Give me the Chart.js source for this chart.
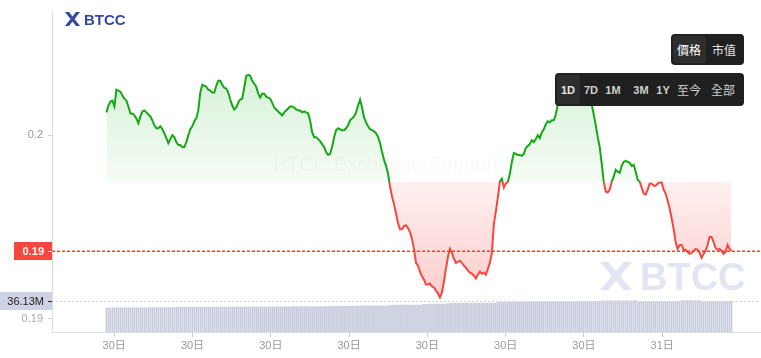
<!DOCTYPE html>
<html><head><meta charset="utf-8">
<script src="https://cdn.jsdelivr.net/npm/chart.js@4"></script>
<style>
html,body{margin:0;padding:0;background:#fff;overflow:hidden;}
#wrap{position:relative;width:761px;height:358px;}
canvas{position:absolute;left:0;top:0;}
.logo{position:absolute;left:65px;top:12px;height:14px;display:flex;align-items:center;font:bold 15px "Liberation Sans",Arial,sans-serif;color:#3149a0;}
.box{position:absolute;background:#202020;border-radius:4px;font-family:"Noto Sans CJK TC","Liberation Sans",sans-serif;}
.box span{position:absolute;top:50%;transform:translate(-50%,-50%);white-space:nowrap;line-height:1;}
.hl{position:absolute;background:#2e2e2e;border-radius:3px;}
.lat{font:bold 11px "Liberation Sans",Arial,sans-serif;color:#cfcfcf;}
.cjk{font-size:12px;color:#cfcfcf;}
</style></head>
<body><div id="wrap"><canvas id="c" width="761" height="358"></canvas>
<div class="logo"><svg width="15" height="14" viewBox="0 0 15 14"><polygon fill="#3149a0" points="0,0 4,0 7.5,4.5 11,0 15,0 9.5,7 15,14 11,14 7.5,9.5 4,14 0,14 5.5,7"/></svg><span style="margin-left:4px">BTCC</span></div>
<div class="box" style="left:671px;top:34px;width:73px;height:31px;">
 <div class="hl" style="left:2px;top:2px;width:33px;height:27px"></div>
 <span class="cjk" style="left:18px;color:#fff">價格</span>
 <span class="cjk" style="left:53px;color:#e0e0e0">市值</span>
</div>
<div class="box" style="left:555px;top:73px;width:189px;height:33px;">
 <div class="hl" style="left:2px;top:2px;width:23px;height:29px"></div>
 <span class="lat" style="left:13px;color:#e6e6e6">1D</span>
 <span class="lat" style="left:36px">7D</span>
 <span class="lat" style="left:58px">1M</span>
 <span class="lat" style="left:86px">3M</span>
 <span class="lat" style="left:108px">1Y</span>
 <span class="cjk" style="left:134px">至今</span>
 <span class="cjk" style="left:168px">全部</span>
</div>
</div>
<script>
const priceValues = [
0.20197,0.20256,0.20291,0.20299,0.20248,0.20393,0.20385,0.20376,0.20342,0.20316,
0.20299,0.20248,0.20188,0.20188,0.20171,0.20145,0.20103,0.20162,0.20205,0.20214,
0.20197,0.20179,0.20162,0.20128,0.20085,0.20060,0.20060,0.20077,0.20051,0.20017,
0.19974,0.19932,0.19966,0.20000,0.19983,0.19940,0.19915,0.19915,0.19897,0.19897,
0.19940,0.20000,0.20051,0.20077,0.20120,0.20145,0.20214,0.20368,0.20436,0.20427,
0.20419,0.20393,0.20385,0.20368,0.20368,0.20427,0.20470,0.20470,0.20436,0.20410,
0.20402,0.20368,0.20308,0.20256,0.20222,0.20239,0.20282,0.20308,0.20316,0.20410,
0.20513,0.20521,0.20513,0.20470,0.20444,0.20419,0.20359,0.20325,0.20359,0.20359,
0.20333,0.20325,0.20316,0.20282,0.20239,0.20222,0.20205,0.20188,0.20171,0.20197,
0.20214,0.20231,0.20248,0.20248,0.20239,0.20222,0.20214,0.20214,0.20197,0.20205,
0.20197,0.20188,0.20128,0.20026,0.19983,0.19983,0.19966,0.19949,0.19923,0.19897,
0.19855,0.19829,0.19838,0.19897,0.19983,0.20043,0.20060,0.20051,0.20043,0.20043,
0.20060,0.20085,0.20128,0.20145,0.20162,0.20197,0.20256,0.20308,0.20239,0.20154,
0.20111,0.20077,0.20051,0.20043,0.20034,0.20017,0.19983,0.19932,0.19855,0.19786,
0.19735,0.19667,0.19556,0.19470,0.19402,0.19325,0.19239,0.19188,0.19188,0.19214,
0.19222,0.19197,0.19162,0.19103,0.19017,0.18897,0.18872,0.18821,0.18778,0.18752,
0.18709,0.18709,0.18718,0.18692,0.18684,0.18658,0.18632,0.18598,0.18641,0.18735,
0.18846,0.18949,0.19017,0.18983,0.18932,0.18897,0.18906,0.18915,0.18897,0.18872,
0.18855,0.18829,0.18812,0.18803,0.18786,0.18761,0.18795,0.18821,0.18803,0.18812,
0.18795,0.18846,0.18897,0.18983,0.19231,0.19342,0.19462,0.19598,0.19624,0.19547,
0.19581,0.19598,0.19667,0.19769,0.19846,0.19838,0.19829,0.19829,0.19821,0.19838,
0.19889,0.19906,0.19923,0.19957,0.19940,0.19966,0.20000,0.19974,0.20026,0.20051,
0.20094,0.20120,0.20111,0.20128,0.20128,0.20179,0.20265,0.20316,0.20350,0.20368,
0.20402,0.20419,0.20427,0.20453,0.20470,0.20487,0.20513,0.20504,0.20479,0.20453,
0.20410,0.20368,0.20316,0.20265,0.20179,0.20085,0.19983,0.19897,0.19752,0.19598,
0.19513,0.19504,0.19530,0.19598,0.19641,0.19701,0.19684,0.19675,0.19735,0.19769,
0.19778,0.19769,0.19761,0.19735,0.19744,0.19684,0.19615,0.19598,0.19547,0.19496,
0.19487,0.19530,0.19581,0.19581,0.19564,0.19564,0.19581,0.19590,0.19590,0.19530,
0.19496,0.19436,0.19368,0.19282,0.19188,0.19077,0.19017,0.19051,0.19051,0.19009,
0.19009,0.18991,0.18974,0.18983,0.19000,0.19017,0.19009,0.18983,0.18940,0.18974,
0.19000,0.19051,0.19120,0.19120,0.19077,0.19026,0.19009,0.19017,0.19000,0.18974,
0.18991,0.19051,0.19017,0.19000
];
const volumeValues = [
28.42,28.45,28.40,28.47,28.44,28.50,28.46,28.52,28.48,28.51,28.55,28.53,28.58,28.54,28.57,28.60,28.56,28.61,28.59,28.63,
28.62,28.66,28.64,28.68,28.65,28.70,28.67,28.72,28.69,28.74,28.71,28.76,28.73,28.78,28.80,
28.95,29.00,28.98,29.04,29.02,29.07,29.05,29.10,29.08,29.12,29.10,29.15,29.13,29.18,29.16,29.20,29.19,29.24,29.22,29.27,
29.25,29.30,29.28,29.33,29.31,29.35,29.34,29.38,29.36,29.41,29.39,29.44,29.42,29.47,29.45,29.50,29.48,29.52,29.50,29.55,
29.53,29.57,29.60,
29.62,29.65,29.63,29.68,29.66,29.70,29.69,29.73,29.71,29.76,29.74,29.79,29.77,29.82,29.80,29.85,29.83,29.88,29.86,29.91,
29.89,29.94,29.92,29.97,29.95,30.00,29.98,30.03,30.01,30.06,30.04,30.09,30.07,30.12,30.10,30.15,30.13,30.20,30.18,30.25,
30.23,30.30,30.35,
30.60,30.64,30.62,30.67,30.65,30.70,30.68,30.72,30.70,30.75,30.73,30.77,30.76,30.80,30.78,30.82,30.81,30.85,30.84,30.88,30.90,
31.50,31.55,31.52,31.58,31.56,31.62,31.60,31.66,31.64,31.70,31.68,31.74,31.72,31.78,31.80,31.85,31.90,
32.70,32.74,32.72,32.78,32.80,32.85,32.83,32.90,32.95,32.93,33.00,33.05,33.10,
33.80,33.84,33.82,33.87,33.85,33.90,33.88,33.93,33.91,33.96,33.94,33.99,33.97,34.02,34.00,34.05,34.03,34.08,34.06,34.11,
34.09,34.14,34.17,34.20,
35.30,35.33,35.31,35.36,35.34,35.38,35.36,35.40,35.38,35.42,35.40,35.44,35.42,35.46,35.44,35.48,35.46,35.50,35.48,35.52,
35.50,35.54,35.52,35.56,35.54,35.58,35.56,35.60,35.58,35.62,35.60,35.63,35.61,35.65,35.63,35.67,35.65,35.69,35.67,35.70,
35.68,35.72,35.70,35.74,35.72,35.75,35.73,35.77,35.75,35.78,35.80,
36.50,36.55,36.58,36.62,36.60,36.66,36.64,36.70,36.68,36.74,36.72,36.78,36.76,36.82,36.80,36.85,36.83,36.88,36.90,
35.42,35.45,35.43,35.48,35.46,35.50,35.48,35.53,35.51,35.56,35.54,35.59,35.57,35.62,35.60,35.65,35.63,35.68,35.66,35.71,35.74,35.78,
36.90,36.93,36.91,36.95,36.94,36.97,36.95,36.99,36.98,37.00,
35.62,35.66,35.64,35.70,35.68,35.74,35.72,35.78,35.80,35.85,35.88,35.92,35.97,36.02,36.08,36.13
];
const xTickIdx = [3.9, 43.1, 82.3, 121.5, 160.7, 199.9, 239.1, 278.3];
const xTickLabels = ['30日','30日','30日','30日','30日','30日','30日','31日'];
const priceTicks = [0.2, 0.19];
const baselinePrice = 0.19598;
const volTickValues = [16];
const volTickLabels = ['0.19'];

const FONT = '"Liberation Sans", "Noto Sans CJK TC", Arial, sans-serif';
Chart.defaults.font.family = FONT;
const GREEN = '#14a814';
const RED = '#f5473f';
const WM = 'rgba(150,160,210,0.27)';

function drawIcon(ctx, x, y, w, h, color){
  const p = [[0,0],[4,0],[7.5,4.5],[11,0],[15,0],[9.5,7],[15,14],[11,14],[7.5,9.5],[4,14],[0,14],[5.5,7]];
  ctx.fillStyle = color;
  ctx.beginPath();
  p.forEach((q,i)=>{ const px = x + q[0]/15*w, py = y + q[1]/14*h; i?ctx.lineTo(px,py):ctx.moveTo(px,py); });
  ctx.closePath(); ctx.fill();
}
function dashedH(ctx, x0, x1, yy, color, on, off, h){
  ctx.fillStyle = color;
  for (let x = x0; x < x1; x += on + off) ctx.fillRect(x, yy, Math.min(on, x1 - x), h);
}

const overlay = {
  id: 'overlay',
  beforeDatasetsDraw(chart){
    const ctx = chart.ctx;
    ctx.save();
    ctx.font = '20px ' + FONT;
    ctx.fillStyle = 'rgba(0,0,0,0.025)';
    ctx.textAlign = 'center'; ctx.textBaseline = 'middle';
    ctx.fillText('BTCC Exchange Support', 386, 165);
    drawIcon(ctx, 600, 262, 32, 28, WM);
    ctx.font = 'bold 38px ' + FONT;
    ctx.fillStyle = WM;
    ctx.textAlign = 'left'; ctx.textBaseline = 'alphabetic';
    ctx.fillText('BTCC', 640, 290);
    ctx.restore();
  },
  afterDraw(chart){
    const {ctx, chartArea:a, scales:{y, y1}} = chart;
    const last = priceValues[priceValues.length-1];
    const lv = volumeValues[volumeValues.length-1];
    const py = Math.round(y.getPixelForValue(last));
    const vy = Math.round(y1.getPixelForValue(lv));
    ctx.save();
    dashedH(ctx, a.left, a.right, py - 0.5, '#ff3a30', 3, 2, 1.5);
    dashedH(ctx, a.left, a.right, vy, '#d4d4d4', 2, 2, 1);
    ctx.textAlign = 'right'; ctx.textBaseline = 'middle';
    ctx.fillStyle = RED;
    ctx.fillRect(14, py - 9, a.left - 14, 18);
    ctx.fillStyle = '#fff';
    ctx.font = 'bold 11px ' + FONT;
    ctx.fillText(last.toFixed(2), 44, py + 0.5);
    ctx.fillRect(48, py, 4, 1);
    ctx.fillStyle = '#cdd3e3';
    ctx.fillRect(0, vy - 9, a.left, 18);
    ctx.fillStyle = '#222';
    ctx.font = '11px ' + FONT;
    ctx.fillText(lv.toFixed(2) + 'M', 44, vy + 0.5);
    ctx.fillRect(48, vy, 4, 1);
    volTickValues.forEach((v,i)=>{
      const ty = Math.round(y1.getPixelForValue(v));
      ctx.fillStyle = '#aaa';
      ctx.fillText(volTickLabels[i], 43, ty + 0.5);
      ctx.fillStyle = '#ccc';
      ctx.fillRect(48, ty, 4, 1);
    });
    ctx.restore();
  }
};

const chart = new Chart(document.getElementById('c'), {
  type: 'line',
  data: {
    datasets: [
      {
        type: 'line',
        data: priceValues.map((v,i)=>({x:i, y:v})),
        yAxisID: 'y',
        borderColor: GREEN,
        borderWidth: 2,
        pointRadius: 0,
        tension: 0,
        fill: {target: {value: baselinePrice}, above: 'rgba(20,170,20,0.1)', below: 'rgba(245,71,63,0.15)'},
        order: 1
      },
      {
        type: 'bar',
        data: volumeValues.map((v,i)=>({x:i, y:v})),
        yAxisID: 'y1',
        backgroundColor: '#c6cbdc',
        barThickness: 1,
        order: 2
      }
    ]
  },
  options: {
    responsive: false,
    animation: false,
    layout: {padding: {top: 8, left: 0, right: 0, bottom: 0}},
    plugins: {legend: {display: false}, tooltip: {enabled: false}},
    scales: {
      x: {
        type: 'linear', min: -27.25, max: 327.25, offset: false,
        afterDataLimits: ax => { ax.min = -27.25; ax.max = 327.25; },
        afterBuildTicks: ax => { ax.ticks = xTickIdx.map(v => ({value: v})); },
        afterFit: ax => { ax.height = 26; },
        ticks: {callback: (v, i) => xTickLabels[i], color: '#999', font: {size: 11}, padding: 2, maxRotation: 0, autoSkip: false},
        grid: {offset: false, drawOnChartArea: false, drawTicks: true, tickLength: 5, color: '#ccc'},
        border: {color: '#ddd'}
      },
      y: {
        position: 'left', min: 0.18299, max: 0.21068,
        afterBuildTicks: ax => { ax.ticks = priceTicks.map(v => ({value: v})); },
        afterFit: ax => { ax.width = 52; },
        ticks: {callback: v => String(v), color: '#999', font: {size: 11}, padding: 5},
        grid: {drawOnChartArea: false, drawTicks: true, tickLength: 4, color: '#ccc'},
        border: {color: '#ddd'}
      },
      y1: {display: false, position: 'left', min: 0, max: 377.6}
    }
  },
  plugins: [overlay]
});

(function applyGradients(){
  const {ctx, chartArea, scales:{y}} = chart;
  const yb = y.getPixelForValue(baselinePrice);
  const f = (yb - chartArea.top) / (chartArea.bottom - chartArea.top);
  const lg = ctx.createLinearGradient(0, chartArea.top, 0, chartArea.bottom);
  lg.addColorStop(0, GREEN); lg.addColorStop(f, GREEN); lg.addColorStop(f, RED); lg.addColorStop(1, RED);
  const yTop = y.getPixelForValue(Math.max(...priceValues));
  const yBot = y.getPixelForValue(Math.min(...priceValues));
  const ga = ctx.createLinearGradient(0, yTop, 0, yb);
  ga.addColorStop(0, 'rgba(20,170,20,0.17)'); ga.addColorStop(1, 'rgba(20,170,20,0.04)');
  const gb = ctx.createLinearGradient(0, yb, 0, yBot);
  gb.addColorStop(0, 'rgba(250,70,70,0.08)'); gb.addColorStop(1, 'rgba(250,70,70,0.27)');
  const ds = chart.data.datasets[0];
  ds.borderColor = lg;
  ds.fill = {target: {value: baselinePrice}, above: ga, below: gb};
  chart.update('none');
})();
</script>
</body></html>
